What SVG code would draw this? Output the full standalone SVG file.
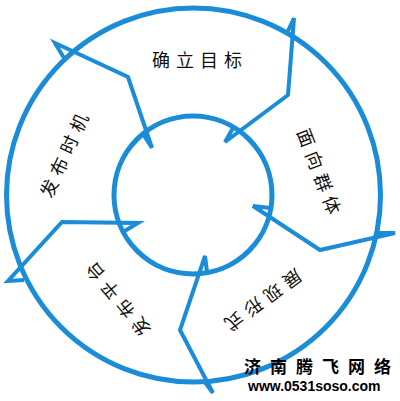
<svg xmlns="http://www.w3.org/2000/svg" width="400" height="401" viewBox="0 0 400 401">
<style>
.ring{fill:none;stroke:#1a8cd8;stroke-width:5}
.arrow{fill:none;stroke:#1a8cd8;stroke-width:4;stroke-linejoin:miter;stroke-linecap:butt}
.lbl{font-family:"Noto Sans CJK SC","Noto Sans",sans-serif;font-size:18px;fill:#111;letter-spacing:6px;text-anchor:middle;dominant-baseline:central}
.wm{font-family:"Noto Sans CJK SC",sans-serif;font-size:17px;font-weight:bold;fill:#000;letter-spacing:9px}
.url{font-family:"Liberation Sans",Arial,sans-serif;font-size:14px;font-weight:bold;fill:#000}
</style>
<rect width="400" height="401" fill="#fff"/>
<g id="rings">
<circle id="outer" class="ring" cx="193.5" cy="195" r="187"/>
<circle id="inner" class="ring" cx="193" cy="195" r="79"/>
</g>
<g id="connectors">
<polyline class="arrow" points="64,58 55,43 128,77 152,148 143,134"/>
<polyline class="arrow" points="287,33 294,18 288,95 225,142 233,128"/>
<polyline class="arrow" points="24,280 8,281 62,222 138,223 123,232"/>
<polyline class="arrow" points="207,272 205,256 180,330 213,393 204,381"/>
<polyline class="arrow" points="270,208 253,206 320,250 395,233 378,233"/>
</g>
<g id="n1"><text class="lbl" x="200" y="59">确立目标</text></g>
<g id="n2"><text class="lbl" transform="translate(320,171) rotate(69)" x="3" y="0">面向群体</text></g>
<g id="n3"><text class="lbl" transform="translate(264,301) rotate(144)" x="3" y="0">展现形式</text></g>
<g id="n4"><text class="lbl" transform="translate(117,300) rotate(230)" x="3" y="0">发布平台</text></g>
<g id="n5"><text class="lbl" transform="translate(63,155) rotate(-65.5)" x="3" y="0">发布时机</text></g>
<g id="watermark">
<text class="wm" x="244" y="373">济南腾飞网络</text>
<text class="url" x="248" y="391">www.0531soso.com</text>
</g>
</svg>
